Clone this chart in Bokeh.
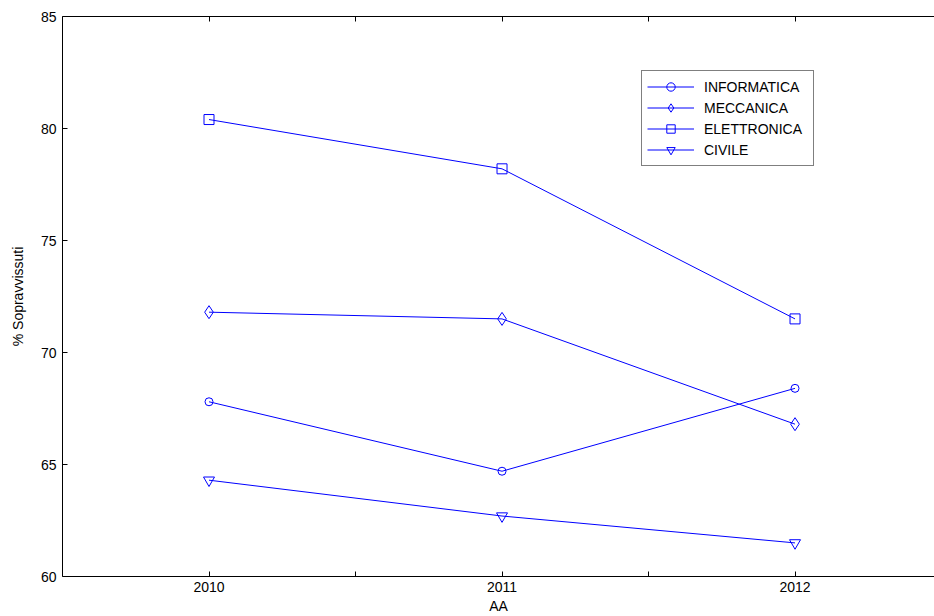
from bokeh.plotting import figure
from bokeh.models import FixedTicker, LinearAxis, Range1d, Legend, CustomJSTickFormatter
from bokeh.embed import file_html
from bokeh.resources import INLINE

years = [2010, 2011, 2012]
informatica = [67.8, 64.7, 68.4]
meccanica = [71.8, 71.5, 66.8]
elettronica = [80.4, 78.2, 71.5]
civile = [64.3, 62.7, 61.5]
x_minor = [2010.5, 2011.5]
y_ticks = [60, 65, 70, 75, 80, 85]

FONT = "Liberation Sans"
FS = "14px"

p = figure(width=934, height=616, output_backend="svg", toolbar_location=None,
           x_range=Range1d(2009.5, 2012.476), y_range=Range1d(60, 85),
           min_border_left=62, min_border_right=0, min_border_top=16, min_border_bottom=39,
           x_axis_label="AA", y_axis_label="% Sopravvissuti")
p.outline_line_color = None
p.grid.visible = False
p.background_fill_color = "white"
p.border_fill_color = "white"

xt = FixedTicker(ticks=years, minor_ticks=x_minor)
yt = FixedTicker(ticks=y_ticks)

for ax in p.xaxis:
    ax.ticker = xt
for ax in p.yaxis:
    ax.ticker = yt

def style(ax):
    ax.axis_line_color = "black"
    ax.axis_line_width = 1
    ax.major_tick_line_color = "black"
    ax.minor_tick_line_color = "black"
    ax.major_tick_in = 5
    ax.major_tick_out = 0
    ax.minor_tick_in = 5
    ax.minor_tick_out = 0
    ax.major_label_text_font = FONT
    ax.major_label_text_font_size = FS
    ax.major_label_text_color = "black"
    ax.axis_label_text_font = FONT
    ax.axis_label_text_font_size = FS
    ax.axis_label_text_font_style = "normal"
    ax.axis_label_text_color = "black"

style(p.xaxis[0])
style(p.yaxis[0])
p.xaxis[0].major_label_standoff = 5
p.xaxis[0].axis_label_standoff = 3
p.yaxis[0].major_label_standoff = 6
p.yaxis[0].axis_label_standoff = 12

top = LinearAxis(ticker=FixedTicker(ticks=years, minor_ticks=x_minor),
                 formatter=CustomJSTickFormatter(code="return ''"))
style(top)
top.major_label_standoff = 0
p.add_layout(top, "above")

kw = dict(line_color="#0000FF", line_width=1)
mk = dict(line_color="#0000FF", fill_color=None, line_width=1)

l1 = p.line(years, informatica, **kw)
s1 = p.scatter(years, informatica, marker="circle", size=8, **mk)
l2 = p.line(years, meccanica, **kw)
s2 = p.scatter(years, meccanica, marker="diamond", size=13, **mk)
l3 = p.line(years, elettronica, **kw)
s3 = p.scatter(years, elettronica, marker="square", size=10, **mk)
l4 = p.line(years, civile, **kw)
s4 = p.scatter(years, civile, marker="inverted_triangle", size=11, **mk)

legend = Legend(items=[("INFORMATICA", [l1, s1]), ("MECCANICA", [l2, s2]),
                       ("ELETTRONICA", [l3, s3]), ("CIVILE", [l4, s4])],
                location=(579, 410))
legend.padding = 5
legend.margin = 0
legend.spacing = 0
legend.label_height = 17
legend.label_width = 104
legend.glyph_height = 21
legend.glyph_width = 47
legend.label_standoff = 10
legend.label_text_font = FONT
legend.label_text_font_size = FS
legend.label_text_color = "black"
legend.border_line_color = "black"
legend.border_line_width = 1
legend.background_fill_color = "white"
legend.background_fill_alpha = 1
p.add_layout(legend, "center")

open("out.html", "w").write(file_html(p, INLINE))
